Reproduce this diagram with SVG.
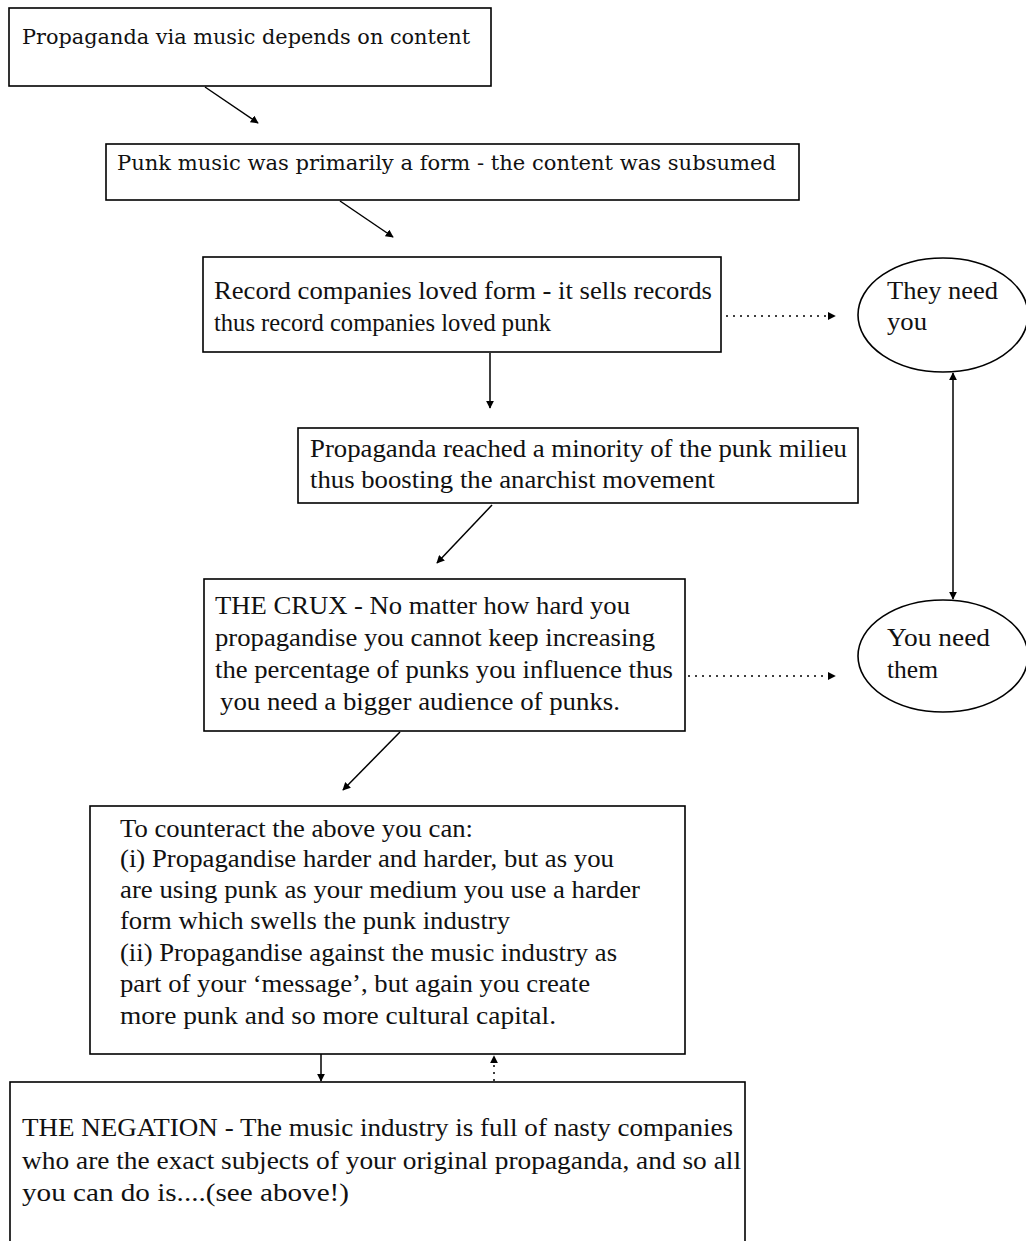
<svg xmlns="http://www.w3.org/2000/svg" width="1026" height="1241" viewBox="0 0 1026 1241">
<style>
.box{fill:#fff;stroke:#000;stroke-width:1.6}
.t{font-family:"Liberation Serif","Times New Roman",serif;font-size:25px;fill:#111}
.s{font-family:"DejaVu Serif","Liberation Serif",serif;font-size:21px;fill:#111}
.c{stroke:#000;stroke-width:1.5;fill:none}
.d{stroke:#000;stroke-width:1.5;fill:none;stroke-dasharray:2 5}
</style>
<defs>
<marker id="ah" viewBox="0 0 10 10" refX="9" refY="5" markerWidth="8" markerHeight="8" markerUnits="userSpaceOnUse" orient="auto-start-reverse">
<path d="M0,0 L10,5 L0,10 z" fill="#000"/>
</marker>
</defs>
<rect width="1026" height="1241" fill="#fff"/>
<g id="connectors">
<line class="c" x1="205" y1="87" x2="258" y2="123" marker-end="url(#ah)"/>
<line class="c" x1="340" y1="201" x2="393" y2="237" marker-end="url(#ah)"/>
<line class="d" x1="726" y1="316" x2="835" y2="316" marker-end="url(#ah)"/>
<line class="c" x1="490" y1="353" x2="490" y2="408" marker-end="url(#ah)"/>
<line class="c" x1="492" y1="505" x2="437" y2="563" marker-end="url(#ah)"/>
<line class="c" x1="953" y1="373" x2="953" y2="599" marker-start="url(#ah)" marker-end="url(#ah)"/>
<line class="d" x1="688" y1="676" x2="835" y2="676" marker-end="url(#ah)"/>
<line class="c" x1="400" y1="732" x2="343" y2="790" marker-end="url(#ah)"/>
<line class="c" x1="321" y1="1054" x2="321" y2="1081" marker-end="url(#ah)"/>
<line class="d" x1="494" y1="1081" x2="494" y2="1056" marker-end="url(#ah)"/>
</g>
<g id="n1">
<rect class="box" x="9" y="8" width="482" height="78"/>
<text class="s" x="22" y="44" textLength="448" lengthAdjust="spacingAndGlyphs">Propaganda via music depends on content</text>
</g>
<g id="n2">
<rect class="box" x="106" y="144" width="693" height="56"/>
<text class="s" x="117" y="170" textLength="659" lengthAdjust="spacingAndGlyphs">Punk music was primarily a form - the content was subsumed</text>
</g>
<g id="n3">
<rect class="box" x="203" y="257" width="518" height="95"/>
<text class="t" x="214" y="299" textLength="498" lengthAdjust="spacingAndGlyphs">Record companies loved form - it sells records</text>
<text class="t" x="214" y="331" textLength="337" lengthAdjust="spacingAndGlyphs">thus record companies loved punk</text>
</g>
<g id="n4">
<ellipse class="box" cx="943" cy="315" rx="85" ry="57"/>
<text class="t" x="887" y="299" textLength="111" lengthAdjust="spacingAndGlyphs">They need</text>
<text class="t" x="887" y="330" textLength="40" lengthAdjust="spacingAndGlyphs">you</text>
</g>
<g id="n5">
<rect class="box" x="298" y="428" width="560" height="75"/>
<text class="t" x="310" y="457" textLength="537" lengthAdjust="spacingAndGlyphs">Propaganda reached a minority of the punk milieu</text>
<text class="t" x="310" y="488" textLength="405" lengthAdjust="spacingAndGlyphs">thus boosting the anarchist movement</text>
</g>
<g id="n6">
<rect class="box" x="204" y="579" width="481" height="152"/>
<text class="t" x="215" y="614" textLength="415" lengthAdjust="spacingAndGlyphs">THE CRUX - No matter how hard you</text>
<text class="t" x="215" y="646" textLength="440" lengthAdjust="spacingAndGlyphs">propagandise you cannot keep increasing</text>
<text class="t" x="215" y="678" textLength="458" lengthAdjust="spacingAndGlyphs">the percentage of punks you influence thus</text>
<text class="t" x="220" y="710" textLength="400" lengthAdjust="spacingAndGlyphs">you need a bigger audience of punks.</text>
</g>
<g id="n7">
<ellipse class="box" cx="943" cy="656" rx="85" ry="56"/>
<text class="t" x="887" y="646" textLength="103" lengthAdjust="spacingAndGlyphs">You need</text>
<text class="t" x="887" y="678" textLength="51" lengthAdjust="spacingAndGlyphs">them</text>
</g>
<g id="n8">
<rect class="box" x="90" y="806" width="595" height="248"/>
<text class="t" x="120" y="837" textLength="353" lengthAdjust="spacingAndGlyphs">To counteract the above you can:</text>
<text class="t" x="120" y="867" textLength="494" lengthAdjust="spacingAndGlyphs">(i) Propagandise harder and harder, but as you</text>
<text class="t" x="120" y="898" textLength="520" lengthAdjust="spacingAndGlyphs">are using punk as your medium you use a harder</text>
<text class="t" x="120" y="929" textLength="390" lengthAdjust="spacingAndGlyphs">form which swells the punk industry</text>
<text class="t" x="120" y="961" textLength="497" lengthAdjust="spacingAndGlyphs">(ii) Propagandise against the music industry as</text>
<text class="t" x="120" y="992" textLength="470" lengthAdjust="spacingAndGlyphs">part of your ‘message’, but again you create</text>
<text class="t" x="120" y="1024" textLength="436" lengthAdjust="spacingAndGlyphs">more punk and so more cultural capital.</text>
</g>
<g id="n9">
<rect class="box" x="10" y="1082" width="735" height="170"/>
<text class="t" x="22" y="1136" textLength="711" lengthAdjust="spacingAndGlyphs">THE NEGATION - The music industry is full of nasty companies</text>
<text class="t" x="22" y="1169" textLength="719" lengthAdjust="spacingAndGlyphs">who are the exact subjects of your original propaganda, and so all</text>
<text class="t" x="22" y="1201" textLength="327" lengthAdjust="spacingAndGlyphs">you can do is....(see above!)</text>
</g>
</svg>
